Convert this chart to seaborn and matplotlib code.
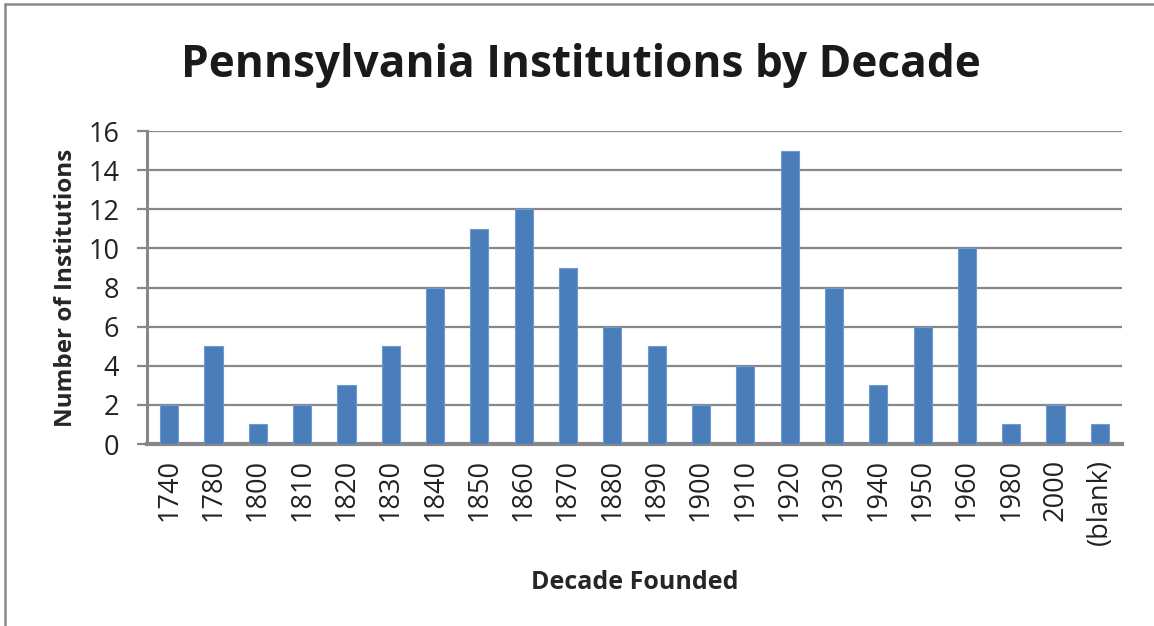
import seaborn as sns
import matplotlib.pyplot as plt
import pandas as pd
from matplotlib.lines import Line2D

decades = ['1740', '1780', '1800', '1810', '1820', '1830', '1840', '1850', '1860',
           '1870', '1880', '1890', '1900', '1910', '1920', '1930', '1940', '1950',
           '1960', '1980', '2000', '(blank)']
counts = [2, 5, 1, 2, 3, 5, 8, 11, 12, 9, 6, 5, 2, 4, 15, 8, 3, 6, 10, 1, 2, 1]


def main():
    data = pd.DataFrame({'Decade': decades, 'Count': counts})

    sns.set_style('white')
    plt.rcParams['font.family'] = ['Open Sans', 'DejaVu Sans']

    fig = plt.figure(figsize=(11.54, 6.26), dpi=100)
    ax = fig.add_axes([0.1274, 0.2907, 0.8449, 0.5000])

    sns.barplot(data=data, x='Decade', y='Count', color='#4a7ebb',
                width=0.41, saturation=1, edgecolor='#6f9ad0', linewidth=0.8,
                ax=ax, zorder=3)

    grid_c = '#878787'
    ax.set_ylim(0, 16)
    ax.set_yticks(range(0, 17, 2))
    ax.set_xlim(-0.5, len(decades) - 0.5)
    ax.yaxis.grid(True, color=grid_c, linewidth=1.6, zorder=0)
    ax.set_axisbelow(True)
    for s in ['top', 'right']:
        ax.spines[s].set_visible(False)
    ax.spines['left'].set_color(grid_c)
    ax.spines['left'].set_linewidth(2.2)
    ax.spines['bottom'].set_color(grid_c)
    ax.spines['bottom'].set_linewidth(3)

    ax.tick_params(axis='y', length=7, width=1.6, color=grid_c, left=True,
                   labelsize=19.5, labelcolor='#222222', pad=13)
    ax.tick_params(axis='x', length=0, labelsize=19.5, labelcolor='#222222',
                   rotation=90, pad=11)

    ax.set_xlabel('Decade Founded', fontsize=18, fontweight='bold', labelpad=18)
    ax.set_ylabel('Number of Institutions', fontsize=17.5, fontweight='bold', labelpad=7)

    fig.text(0.503, 0.895, 'Pennsylvania Institutions by Decade', ha='center', va='center',
             fontsize=31.8, fontweight='bold', color='#1a1a1a')

    # outer chart frame
    fig.add_artist(Line2D([5 / 1154, 5 / 1154], [0, 1 - 4 / 626], color='#8a8a8a',
                          linewidth=1.8, transform=fig.transFigure))
    fig.add_artist(Line2D([5 / 1154, 1], [1 - 4 / 626, 1 - 4 / 626], color='#8a8a8a',
                          linewidth=1.8, transform=fig.transFigure))

    fig.savefig('out.png', dpi=100)


if __name__ == '__main__':
    main()
